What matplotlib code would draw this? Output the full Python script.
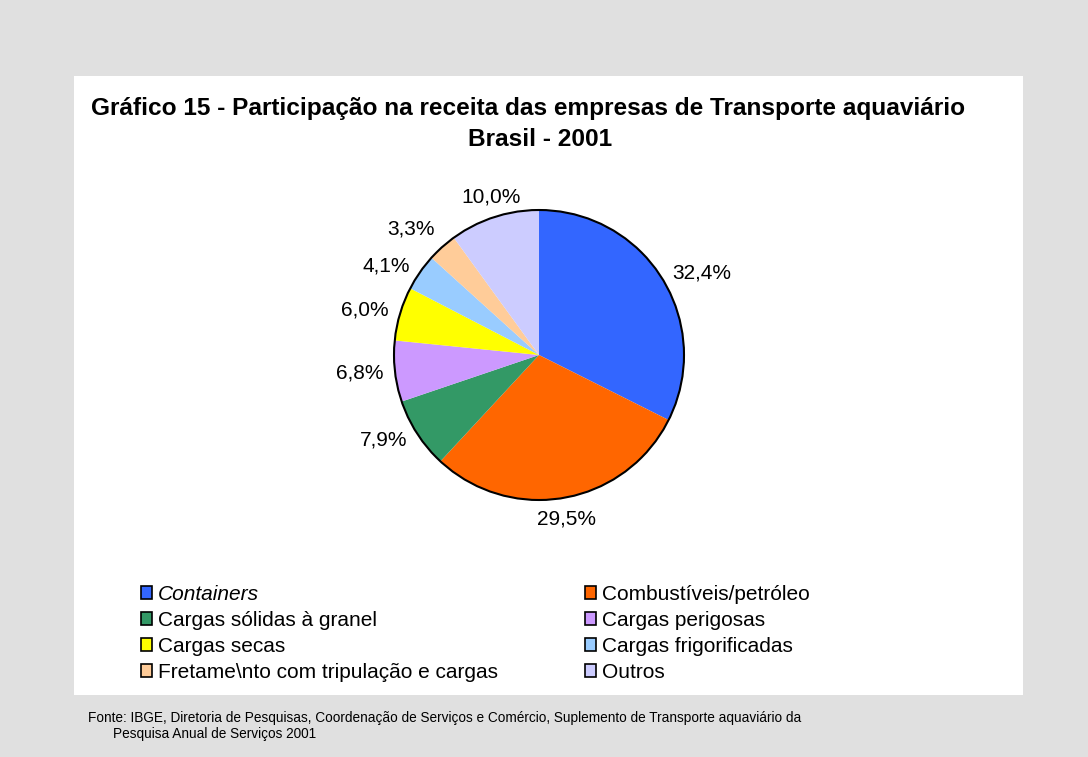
import numpy as np
import matplotlib
matplotlib.use("Agg")
import matplotlib.pyplot as plt
from matplotlib.patches import Rectangle, Patch

plt.rcParams['font.family'] = ['Liberation Sans', 'DejaVu Sans']

# data
categories = ["Containers", "Combustíveis/petróleo", "Cargas sólidas à granel",
              "Cargas perigosas", "Cargas secas", "Cargas frigorificadas",
              "Fretame\\nto com tripulação e cargas", "Outros"]
shares = [32.4, 29.5, 7.9, 6.8, 6.0, 4.1, 3.3, 10.0]
pct_labels = ["32,4%", "29,5%", "7,9%", "6,8%", "6,0%", "4,1%", "3,3%", "10,0%"]
colors = ["#3366FF", "#FF6600", "#339966", "#CC99FF",
          "#FFFF00", "#99CCFF", "#FFCC99", "#CCCCFF"]

W, H = 1088, 757
fig = plt.figure(figsize=(W / 100, H / 100), dpi=100, facecolor="#E0E0E0")

# white panel
fig.patches.append(Rectangle((74 / W, 1 - 695 / H), (1023 - 74) / W, (695 - 76) / H,
                             transform=fig.transFigure, facecolor="white",
                             edgecolor="none", zorder=-5))

fig.text(528 / W, 1 - 108 / H, "Gráfico 15 - Participação na receita das empresas de Transporte aquaviário",
         ha="center", va="center", fontsize=17.6, fontweight="bold")
fig.text(540 / W, 1 - 140 / H, "Brasil - 2001",
         ha="center", va="center", fontsize=17.6, fontweight="bold")

# pie (axes a bit larger than the pie so the outline is not clipped)
cx, cy, r = 539, 355, 145
pad = 1.05
ax = fig.add_axes([(cx - r * pad) / W, 1 - (cy + r * pad) / H, 2 * r * pad / W, 2 * r * pad / H])
ax.set_zorder(2)
wedges, _ = ax.pie(shares, colors=colors, startangle=90, counterclock=False,
                   wedgeprops=dict(linewidth=0))
ax.add_patch(plt.Circle((0, 0), 1, facecolor="none", edgecolor="black",
                        linewidth=1.5, clip_on=False))
ax.set_xlim(-pad, pad)
ax.set_ylim(-pad, pad)
ax.set_aspect("equal")
ax.axis("off")

cum = np.cumsum([0] + shares[:-1])
for s, c0, lab in zip(shares, cum, pct_labels):
    ang = np.deg2rad(90 - (c0 + s / 2) * 3.6)
    x, y = np.cos(ang), np.sin(ang)
    if abs(x) < 0.35:
        ha = "center"
    else:
        ha = "left" if x > 0 else "right"
    if y < -0.7:
        va = "top"
    elif y > 0.7:
        va = "bottom"
    else:
        va = "center"
    ax.text(1.08 * x, 1.08 * y, lab, ha=ha, va=va, fontsize=15, clip_on=False)

# legend, two columns
handles = [Patch(facecolor=c, edgecolor="black", linewidth=1.2) for c in colors]
leg_kw = dict(frameon=False, handlelength=0.55, handleheight=0.55,
              handletextpad=0.25, labelspacing=0.33, loc="upper left",
              borderpad=0, borderaxespad=0, prop=dict(size=15))
leg1 = fig.legend(handles[0::2], categories[0::2],
                  bbox_to_anchor=(141 / W, 1 - 585 / H), **leg_kw)
leg2 = fig.legend(handles[1::2], categories[1::2],
                  bbox_to_anchor=(585 / W, 1 - 585 / H), **leg_kw)
leg1.get_texts()[0].set_style("italic")

fig.text(88 / W, 1 - 718 / H,
         "Fonte: IBGE, Diretoria de Pesquisas, Coordenação de Serviços e Comércio, "
         "Suplemento de Transporte aquaviário da",
         ha="left", va="center", fontsize=9.8)
fig.text(113 / W, 1 - 734 / H, "Pesquisa Anual de Serviços 2001",
         ha="left", va="center", fontsize=9.8)

fig.savefig("out.png", dpi=100, facecolor=fig.get_facecolor())
